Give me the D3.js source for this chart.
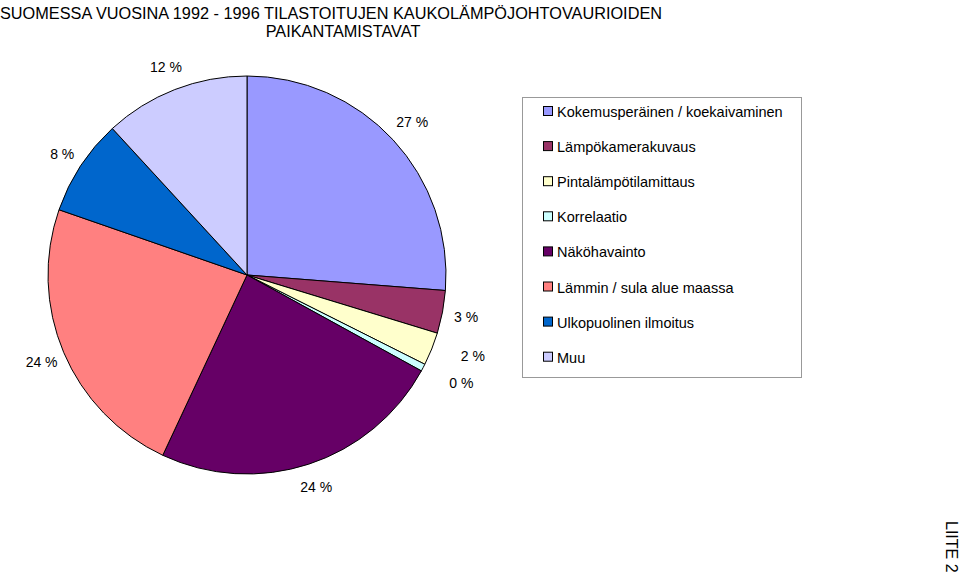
<!DOCTYPE html><html><head><meta charset="utf-8"><script src="https://cdn.jsdelivr.net/npm/d3@7"></script>
<style>body{margin:0;background:#fff}text{font-family:"Liberation Sans",Arial,sans-serif}</style></head><body>
<svg id="c" width="960" height="573"></svg>
<script>
const categories=["Kokemusperäinen / koekaivaminen","Lämpökamerakuvaus","Pintalämpötilamittaus","Korrelaatio","Näköhavainto","Lämmin / sula alue maassa","Ulkopuolinen ilmoitus","Muu"];
const values=[26.4,3.5,2.7,0.6,24.1,23.5,7.9,11.9];
const labels=["27 %","3 %","2 %","0 %","24 %","24 %","8 %","12 %"];
const colors=["#9999FF","#993366","#FFFFCC","#CCFFFF","#660066","#FF8080","#0066CC","#CCCCFF"];
const svg=d3.select("#c");
svg.append("text").attr("x",0).attr("y",19).attr("font-size",16.3).text("SUOMESSA VUOSINA 1992 - 1996 TILASTOITUJEN KAUKOLÄMPÖJOHTOVAURIOIDEN");
svg.append("text").attr("x",343).attr("y",37).attr("font-size",16.3).attr("text-anchor","middle").text("PAIKANTAMISTAVAT");
const cx=247,cy=275,r=199;
const pie=d3.pie().sort(null).value(d=>d)(values);
const g=svg.append("g").attr("transform",`translate(${cx},${cy})`);
g.selectAll("path").data(pie).join("path").attr("d",d3.arc().innerRadius(0).outerRadius(r))
 .attr("fill",(d,i)=>colors[i]).attr("stroke","#000").attr("stroke-width",1);
const lr=[225,223,240,240,223,223,221,223];
const adj=[0,0,-2,-1,0,0,0,0];
g.selectAll("text.l").data(pie).join("text").attr("font-size",14).attr("text-anchor","middle")
 .attr("x",(d,i)=>{const a=(d.startAngle+d.endAngle)/2+adj[i]*Math.PI/180;return lr[i]*Math.sin(a);})
 .attr("y",(d,i)=>{const a=(d.startAngle+d.endAngle)/2+adj[i]*Math.PI/180;return -lr[i]*Math.cos(a)+5;})
 .text((d,i)=>labels[i]);
svg.append("rect").attr("x",522.5).attr("y",97.5).attr("width",279).attr("height",280).attr("fill","#fff").attr("stroke","#999");
const lg=svg.append("g");
categories.forEach((c,i)=>{const y=112+i*35.1;
 lg.append("rect").attr("x",543.5).attr("y",y-5.5).attr("width",9).attr("height",9).attr("fill",colors[i]).attr("stroke","#000");
 lg.append("text").attr("x",557).attr("y",y+5).attr("font-size",14.5).text(c);});
svg.append("text").attr("transform","translate(946,521) rotate(90)").attr("font-size",16).text("LIITE 2");
</script></body></html>
